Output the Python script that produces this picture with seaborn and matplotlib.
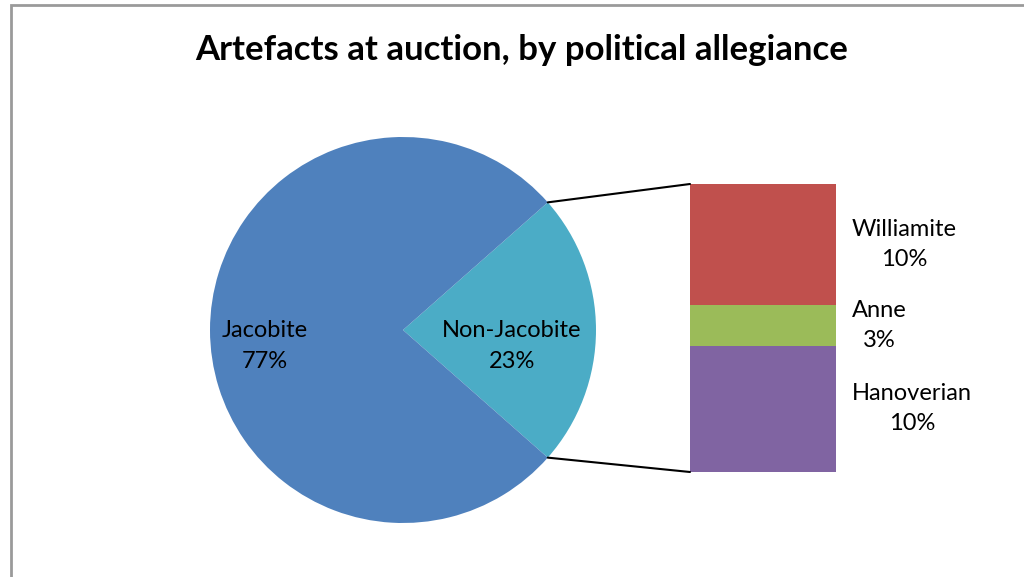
import matplotlib
matplotlib.use("Agg")
import matplotlib.pyplot as plt
from matplotlib.patches import Rectangle, ConnectionPatch
import numpy as np
import seaborn as sns

# ---- data ----
pie_labels = ["Non-Jacobite", "Jacobite"]
pie_values = [23, 77]
bar_labels = ["Hanoverian", "Anne", "Williamite"]
bar_values = [10.1, 3.2, 9.7]
bar_pct_text = ["10%", "3%", "10%"]
pie_pct_text = ["23%", "77%"]
title = "Artefacts at auction, by political allegiance"

sns.set_theme(style="white")
plt.rcParams['font.family'] = ['Lato', 'DejaVu Sans']

pie_colors = ["#4BACC6", "#4F81BD"]
bar_colors = ["#8064A2", "#9BBB59", "#C0504D"]

W, H = 1024, 577
fig = plt.figure(figsize=(W / 100, H / 100), dpi=100)
fig.patch.set_facecolor("white")

def fx(px):
    return px / W

def fy(py):
    return 1 - py / H

LFS = 17
LSP = 1.55

# pie axes
cx, cy, r = 403, 330, 193
ax_pie = fig.add_axes([fx(cx - r), fy(cy + r), 2 * r / W, 2 * r / H])
frac0 = pie_values[0] / sum(pie_values)
start = -frac0 * 180
wedges, _ = ax_pie.pie(pie_values, colors=pie_colors, startangle=start,
                       counterclock=True, radius=1,
                       wedgeprops=dict(linewidth=0))
ax_pie.set_xlim(-1, 1)
ax_pie.set_ylim(-1, 1)
ax_pie.set_aspect("auto")
ax_pie.axis("off")

# pie labels
fig.text(fx(265), fy(346), f"{pie_labels[1]}\n{pie_pct_text[1]}", ha="center",
         va="center", multialignment="center", fontsize=LFS, color="black",
         linespacing=LSP)
fig.text(fx(512), fy(346), f"{pie_labels[0]}\n{pie_pct_text[0]}", ha="center",
         va="center", multialignment="center", fontsize=LFS, color="black",
         linespacing=LSP)

# stacked bar axes
bx0, bx1, by0, by1 = 690, 836, 184, 472
ax_bar = fig.add_axes([fx(bx0), fy(by1), (bx1 - bx0) / W, (by1 - by0) / H])
total = sum(bar_values)
bottom = 0
for lab, v, c in zip(bar_labels, bar_values, bar_colors):
    ax_bar.bar([0], [v], bottom=bottom, width=1.0, color=c, linewidth=0)
    bottom += v
ax_bar.set_xlim(-0.5, 0.5)
ax_bar.set_ylim(0, total)
ax_bar.axis("off")

# bar labels
bottom = 0
for lab, v, t in zip(bar_labels, bar_values, bar_pct_text):
    mid = bottom + v / 2
    ax_bar.annotate(f"{lab}\n{t}", xy=(0.5, mid), xycoords="data",
                    xytext=(16, 0), textcoords="offset pixels",
                    ha="left", va="center", multialignment="center",
                    fontsize=LFS, color="black", linespacing=LSP)
    bottom += v

# connector lines
theta = np.deg2rad(frac0 * 180)
for sgn, ytop in [(1, total), (-1, 0)]:
    con = ConnectionPatch(xyA=(np.cos(theta), sgn * np.sin(theta)), coordsA=ax_pie.transData,
                          xyB=(-0.5, ytop), coordsB=ax_bar.transData,
                          color="black", linewidth=1.5)
    fig.add_artist(con)

# title
fig.text(fx(522), fy(50), title, ha="center", va="center", fontsize=25,
         fontweight="bold", color="black")

# frame
fig.add_artist(Rectangle((fx(11), -0.1), 1.2, fy(5) + 0.1, transform=fig.transFigure,
                         fill=False, edgecolor="#9a9a9a", linewidth=2))

fig.savefig("out.png", dpi=100, facecolor="white")
